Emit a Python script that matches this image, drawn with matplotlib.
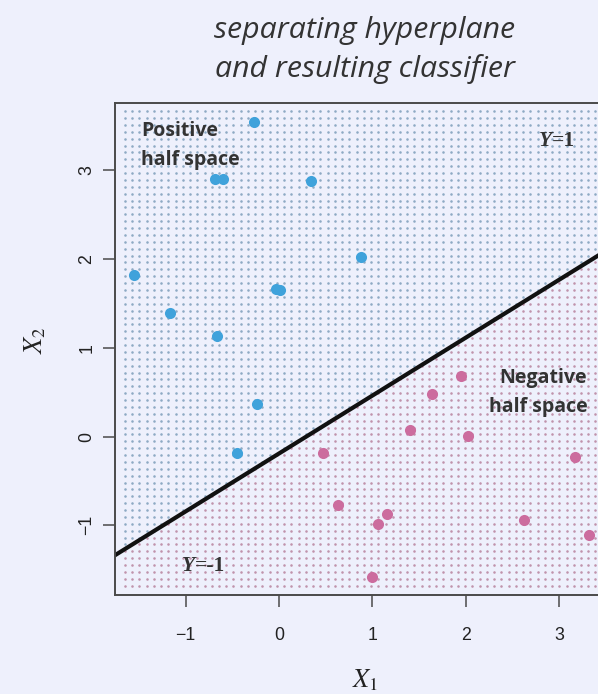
import numpy as np
import matplotlib
matplotlib.use("Agg")
import matplotlib.pyplot as plt

# ---- data ----
blue_x = [-0.27, -0.685, -0.60, 0.34, 0.878, -1.55, -0.03, 0.01, -1.17, -0.66, -0.24, -0.45]
blue_y = [3.55, 2.90, 2.90, 2.88, 2.02, 1.82, 1.66, 1.65, 1.39, 1.13, 0.37, -0.19]
pink_x = [1.95, 1.64, 1.40, 2.02, 3.17, 0.474, 0.63, 1.16, 1.06, 2.62, 3.32, 0.99]
pink_y = [0.683, 0.48, 0.07, 0.007, -0.23, -0.19, -0.77, -0.87, -0.985, -0.94, -1.11, -1.585]

hyper_intercept = -0.19
hyper_slope = 0.653

grid_x_range = (-1.65, 3.60)
grid_y_range = (-1.68, 3.67)
grid_step = 0.0775

x_ticks = [-1, 0, 1, 2, 3]
y_ticks = [-1, 0, 1, 2, 3]
xlim = (-1.756, 3.5)
ylim = (-1.785, 3.76)

title_lines = ["separating hyperplane", "and resulting classifier"]

# ---- style ----
BG = "#eef0fc"
BLUE = "#3fa2db"
PINK = "#cc6c9e"
GRID_BLUE = "#8eaac4"
GRID_PINK = "#c093ac"
DARK = "#333333"
FRAME = "#4a4a4a"

plt.rcParams["mathtext.fontset"] = "stix"

W, H = 598, 694
fig = plt.figure(figsize=(W / 100, H / 100), dpi=100, facecolor=BG)
ax = fig.add_axes([115 / W, 99 / H, (606 - 115) / W, 492 / H])
ax.set_facecolor(BG)

# grid of classified lattice points
gx = np.arange(grid_x_range[0], grid_x_range[1], grid_step)
gy = np.arange(grid_y_range[0], grid_y_range[1], grid_step)
GX, GY = np.meshgrid(gx, gy)
above = GY > hyper_intercept + hyper_slope * GX
ax.scatter(GX[above], GY[above], s=3.4, c=GRID_BLUE, marker="o", linewidths=0, zorder=1)
ax.scatter(GX[~above], GY[~above], s=3.4, c=GRID_PINK, marker="o", linewidths=0, zorder=1)

# hyperplane
ax.axline((0, hyper_intercept), slope=hyper_slope, color="#111111", lw=3.0, zorder=2)

# observations
ax.scatter(blue_x, blue_y, s=64, c=BLUE, linewidths=0, zorder=3)
ax.scatter(pink_x, pink_y, s=64, c=PINK, linewidths=0, zorder=3)

ax.set_xlim(*xlim)
ax.set_ylim(*ylim)
ax.set_xticks(x_ticks)
ax.set_yticks(y_ticks)
ax.tick_params(axis="both", length=8.5, width=1.1, color=FRAME, labelsize=12.8,
               labelcolor="#222222")
ax.tick_params(axis="x", pad=14.5)
ax.tick_params(axis="y", pad=5.5)
for lab in ax.get_yticklabels():
    lab.set_rotation(90)
    lab.set_va("center")
for lab in ax.get_xticklabels() + ax.get_yticklabels():
    lab.set_family("Liberation Sans")
for sp in ax.spines.values():
    sp.set_color(FRAME)
    sp.set_linewidth(1.4)

# axis labels
fig.text(365 / W, 1 - 680 / H, r"$X_1$", fontsize=19, ha="center", va="center", color="#222222")
fig.text(35 / W, 1 - 340 / H, r"$X_2$", fontsize=19, ha="center", va="center",
         rotation=90, color="#222222")

# annotations
ann = dict(family="Open Sans", weight="bold", fontsize=14, color=DARK, zorder=4)
ax.text(-1.478, 3.44, "Positive", ha="left", va="center", **ann)
ax.text(-1.478, 3.115, "half space", ha="left", va="center", **ann)
ax.text(3.30, 0.66, "Negative", ha="right", va="center", **ann)
ax.text(3.30, 0.337, "half space", ha="right", va="center", **ann)

yk = dict(family="Liberation Serif", weight="bold", fontsize=15.5, color=DARK, va="center", zorder=4)
ax.text(2.92, 3.33, "Y", ha="right", style="italic", **yk)
ax.text(2.92, 3.33, "=1", ha="left", **yk)
ax.text(-0.90, -1.455, "Y", ha="right", style="italic", **yk)
ax.text(-0.90, -1.455, "=-1", ha="left", **yk)

# title
for i, line in enumerate(title_lines):
    fig.text(365 / W, 1 - (38 + 39 * i) / H, line, family="Open Sans", style="italic",
             fontsize=21.8, color=DARK, ha="center", va="baseline")

fig.savefig("out.png", dpi=100, facecolor=BG)
